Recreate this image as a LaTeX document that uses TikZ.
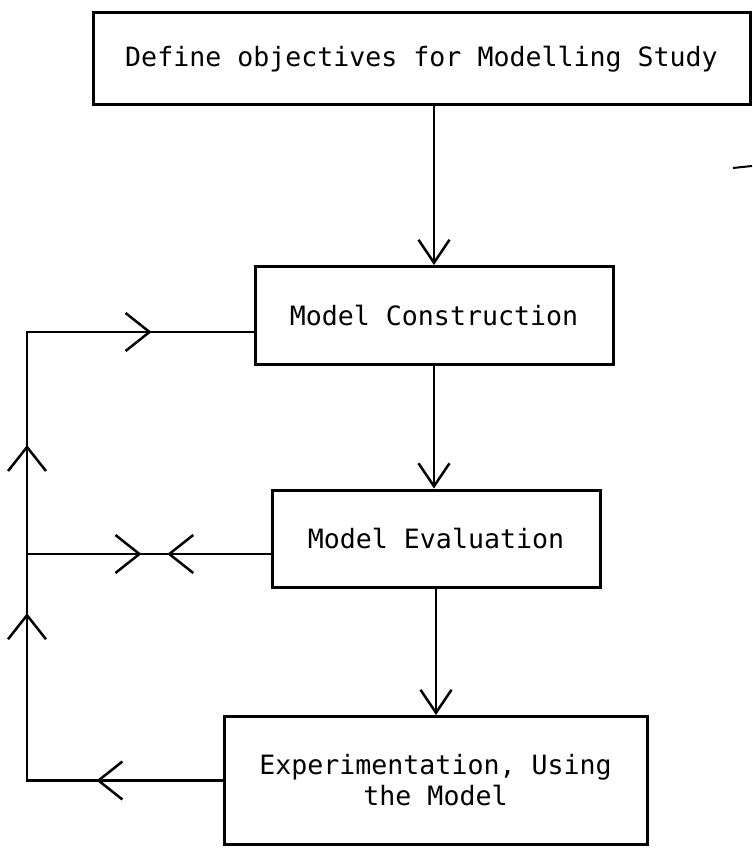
\documentclass[tikz,border=0pt]{standalone}
\usepackage{fontspec}
\setmonofont{DejaVu Sans Mono}
\usepackage{tikz}
\usetikzlibrary{arrows.meta,decorations.markings}

\begin{document}
\begin{tikzpicture}[
    x=1pt,y=-1pt,
    box/.style={rectangle,draw,line width=3pt,align=center,inner sep=0pt,font=\ttfamily\fontsize{26.6}{31}\selectfont},
    conn/.style={line width=2.5pt,line cap=rect},
    barb/.tip={Straight Barb[length=24pt,width=38pt,line width=2.5pt]},
    vee/.tip={Straight Barb[length=23pt,width=31pt,line width=2.5pt]},
    arrow/.style={conn,-{vee}},
    fwd/.style={postaction={decorate,decoration={markings,mark=at position #1 with {\arrow{barb}}}}},
    bwd/.style={postaction={decorate,decoration={markings,mark=at position #1 with {\arrowreversed{barb}}}}}
]
\useasboundingbox (0,0) rectangle (752,848);
\node[box,minimum width=657pt,minimum height=92pt] (obj) at (421.5,59) {Define objectives for Modelling Study};
\node[box,minimum width=358pt,minimum height=98pt] (mc) at (434,315.5) {Model Construction};
\node[box,minimum width=328pt,minimum height=97pt] (me) at (436,538.5) {Model Evaluation};
\node[box,minimum width=423pt,minimum height=128pt] (exp) at (435.5,780.5) {Experimentation, Using\\the Model};
\coordinate (tl) at (27,332);
\coordinate (ml) at (27,554);
\coordinate (bl) at (27,780.5);
\draw[arrow] (obj.south -| mc.north) -- (mc.north);
\draw[arrow] (mc.south) -- (mc.south |- me.north);
\draw[arrow] (me.south) -- (me.south |- exp.north);
\draw[conn,fwd=0.55] (tl) -- (tl -| mc.west);
\draw[conn,fwd=0.47,bwd=0.576] (ml) -- (ml -| me.west);
\draw[conn,fwd=0.645] (exp.west) -- (bl);
\draw[conn,fwd=0.373,fwd=0.748] (bl) -- (tl);
\draw[line width=2pt] (733,168) -- (752,166);
\end{tikzpicture}
\end{document}
